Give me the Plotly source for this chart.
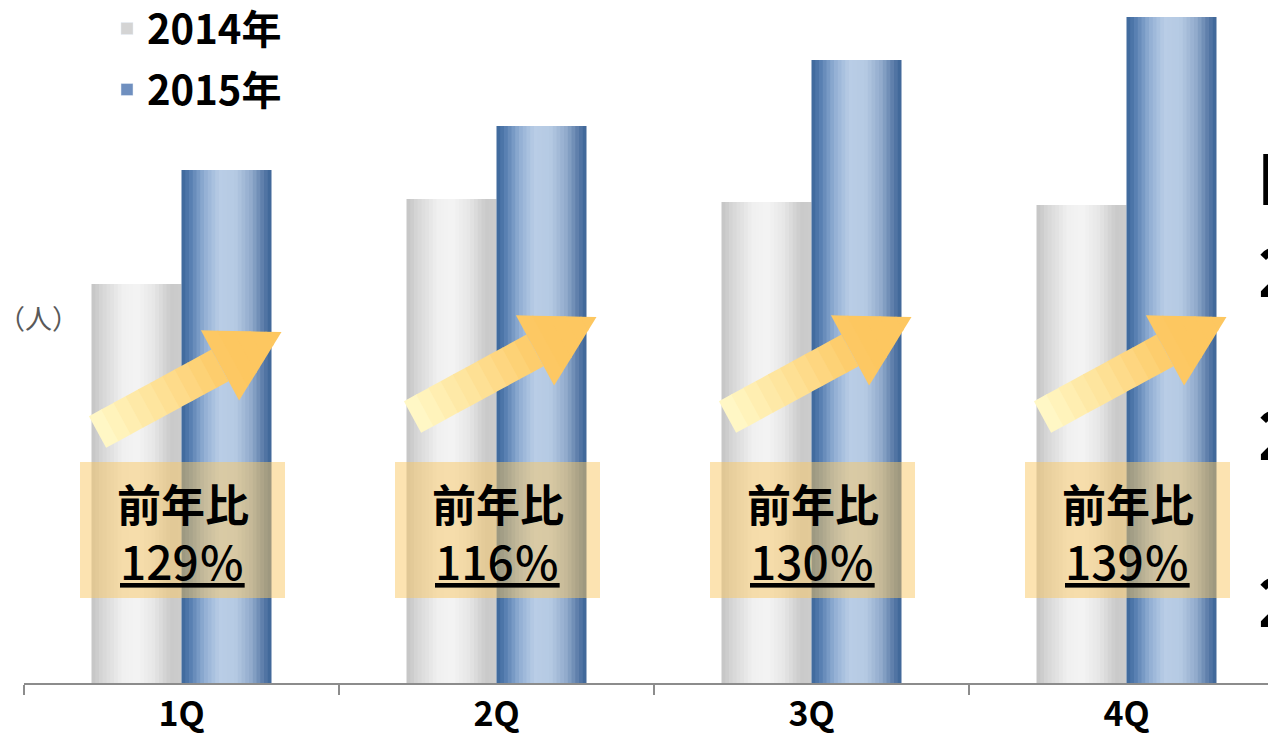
import plotly.graph_objects as go

# ---------------- data ----------------
categories = ["1Q", "2Q", "3Q", "4Q"]
series_names = ["2014年", "2015年"]
values_2014 = [399, 484, 481, 478]
values_2015 = [513, 557, 623, 666]
yoy_title = "前年比"
yoy_labels = ["129％", "116％", "130％", "139％"]
unit_label = "（人）"

# ---------------- layout constants ----------------
OFF = 0                      # body margin removed via post_script
W, H = 1268 - OFF, 738 - OFF
ML, MR, MT, MB = 24 - OFF, 0, 0, 55
PLOT_W = W - ML - MR
PLOT_H = H - MT - MB
CAT_PX = 315.0
X0 = -0.5
X1 = X0 + PLOT_W / CAT_PX
YMAX = 683 - OFF
FONT = "Noto Sans CJK JP"


def px_to_paper_x(px):          # px given in page coordinates
    return (px - OFF - ML) / PLOT_W


def py_to_paper_y(py):
    return (MT + PLOT_H - (py - OFF)) / PLOT_H


def cat_center_px(i):           # page coordinates
    return OFF + ML + (i - X0) * CAT_PX


def hex_to_rgb(h):
    h = h.lstrip("#")
    return tuple(int(h[k:k + 2], 16) for k in (0, 2, 4))


def interp(stops, t):
    for (t0, c0), (t1, c1) in zip(stops[:-1], stops[1:]):
        if t0 <= t <= t1:
            f = 0 if t1 == t0 else (t - t0) / (t1 - t0)
            a, b = hex_to_rgb(c0), hex_to_rgb(c1)
            return "rgb(%d,%d,%d)" % tuple(round(a[k] + (b[k] - a[k]) * f) for k in range(3))
    return stops[-1][1]


gray_stops = [(0, "#c4c4c4"), (0.12, "#d6d6d6"), (0.35, "#f0f0f0"), (0.5, "#f4f4f4"),
              (0.7, "#e6e6e6"), (0.88, "#cacaca"), (1, "#cdcdcd")]
blue_stops = [(0, "#3c6699"), (0.08, "#5079ac"), (0.25, "#90add3"), (0.42, "#b9cde6"),
              (0.6, "#b5cae3"), (0.78, "#90a9cb"), (0.9, "#5e7fab"), (1, "#3b6395")]

BW = 90.0 / CAT_PX
N = 24
fig = go.Figure()

for s, (vals, stops, start) in enumerate([(values_2014, gray_stops, -BW), (values_2015, blue_stops, 0.0)]):
    w = BW / N
    for i in range(N):
        t = (i + 0.5) / N
        width = min(w * 1.7, BW - i * w)
        fig.add_trace(go.Bar(
            x=categories, y=vals, offset=start + i * w, width=width,
            marker=dict(color=interp(stops, t), line=dict(width=0)),
            showlegend=False, hoverinfo="skip"))

# legend entries
for s, (name, col) in enumerate(zip(series_names, ["#d4d4d4", "#6f8fbf"])):
    fig.add_trace(go.Bar(x=categories, y=[None] * 4, name=name, marker=dict(color=col),
                         legendgroup=name))

shapes = []
annotations = []

# arrows
arrow_drop = [15, 0, 0, 0]
c_tail = (255, 250, 202)
c_head = (253, 199, 96)


def arrow_color(f):
    f = min(f / 0.72, 1.0)
    return "rgb(%d,%d,%d)" % tuple(round(c_tail[k] + (c_head[k] - c_tail[k]) * f) for k in range(3))


for i in range(len(categories)):
    cx = cat_center_px(i)
    T = (cx - 84, 417 + arrow_drop[i])
    P = (cx + 100, 317 + arrow_drop[i])
    dx, dy = P[0] - T[0], P[1] - T[1]
    L = (dx * dx + dy * dy) ** 0.5
    d = (dx / L, dy / L)
    n = (-d[1], d[0])
    Lh = 70.0
    Ls = L - Lh
    sw, hw = 18.0, 40.0

    segs = []
    K1, K2 = 10, 5
    for k in range(K1):
        s0 = Ls * k / K1
        s1 = Ls * (k + 1) / K1
        s1e = s1 + 1.0 if k < K1 - 1 else s1
        segs.append((s0, s1e, sw, sw))
    for k in range(K2):
        s0 = Ls + Lh * k / K2
        s1 = Ls + Lh * (k + 1) / K2
        s1e = min(s1 + 1.0, L)
        segs.append((s0, s1e, hw * (L - s0) / Lh, hw * (L - s1e) / Lh))
    for (s0, s1, w0, w1) in segs:
        pts = []
        for (s, w_, sign) in [(s0, w0, 1), (s1, w1, 1), (s1, w1, -1), (s0, w0, -1)]:
            px = T[0] + d[0] * s + sign * n[0] * w_
            py = T[1] + d[1] * s + sign * n[1] * w_
            pts.append((px_to_paper_x(px), py_to_paper_y(py)))
        path = "M " + " L ".join("%.5f,%.5f" % p for p in pts) + " Z"
        shapes.append(dict(type="path", path=path, xref="paper", yref="paper",
                           fillcolor=arrow_color((s0 + s1) / 2 / L), line=dict(width=0),
                           layer="above"))

# boxes + labels
for i, lab in enumerate(yoy_labels):
    cx = cat_center_px(i) + 1
    shapes.append(dict(type="rect", xref="paper", yref="paper",
                       x0=px_to_paper_x(cx - 102.5), x1=px_to_paper_x(cx + 102.5),
                       y0=py_to_paper_y(598), y1=py_to_paper_y(462),
                       fillcolor="rgba(250,200,100,0.5)", line=dict(width=0), layer="above"))
    annotations.append(dict(x=px_to_paper_x(cx), y=py_to_paper_y(503), xref="paper", yref="paper",
                            text="<b>%s</b>" % yoy_title, showarrow=False,
                            font=dict(family=FONT, size=44, color="black"),
                            xanchor="center", yanchor="middle"))
    annotations.append(dict(x=px_to_paper_x(cx), y=py_to_paper_y(560), xref="paper", yref="paper",
                            text="<u>%s</u>" % lab, showarrow=False,
                            font=dict(family=FONT, size=46, color="black", weight=500),
                            xanchor="center", yanchor="middle"))

annotations.append(dict(x=px_to_paper_x(38), y=py_to_paper_y(318), xref="paper", yref="paper",
                        text=unit_label, showarrow=False,
                        font=dict(family=FONT, size=27, color="#595959"),
                        xanchor="center", yanchor="middle"))

# clipped text at the right edge of the slide
for txt, py, sz in [("[", 174, 52), ("2", 267, 68), ("2", 430, 68), ("2", 597, 68)]:
    annotations.append(dict(x=px_to_paper_x(1256), y=py_to_paper_y(py), xref="paper", yref="paper",
                            text="<b>%s</b>" % txt, showarrow=False,
                            font=dict(family=FONT, size=sz, color="black"),
                            xanchor="left", yanchor="middle"))

fig.update_layout(
    width=W, height=H,
    margin=dict(l=ML, r=MR, t=MT, b=MB, autoexpand=False),
    paper_bgcolor="white", plot_bgcolor="white",
    barmode="overlay",
    showlegend=True,
    legend=dict(x=px_to_paper_x(107), y=py_to_paper_y(-4), yanchor="top",
                xanchor="left", bgcolor="rgba(0,0,0,0)",
                font=dict(family=FONT, size=40, color="black", weight="bold"),
                tracegroupgap=6, itemclick=False),
    xaxis=dict(range=[X0, X1], showline=True, linecolor="#8c8c8c", linewidth=2,
               ticks="outside", tickson="boundaries", ticklen=10, tickcolor="#8c8c8c",
               tickwidth=2, showgrid=False, zeroline=False, automargin=False,
               tickfont=dict(family=FONT, size=34, color="black", weight="bold")),
    yaxis=dict(range=[0, YMAX], visible=False, showgrid=False, automargin=False),
    shapes=shapes,
    annotations=annotations,
)

fig.write_html("out.html", config={"displayModeBar": False},
               post_script="document.body.style.margin='0px';document.body.style.overflow='hidden';")
